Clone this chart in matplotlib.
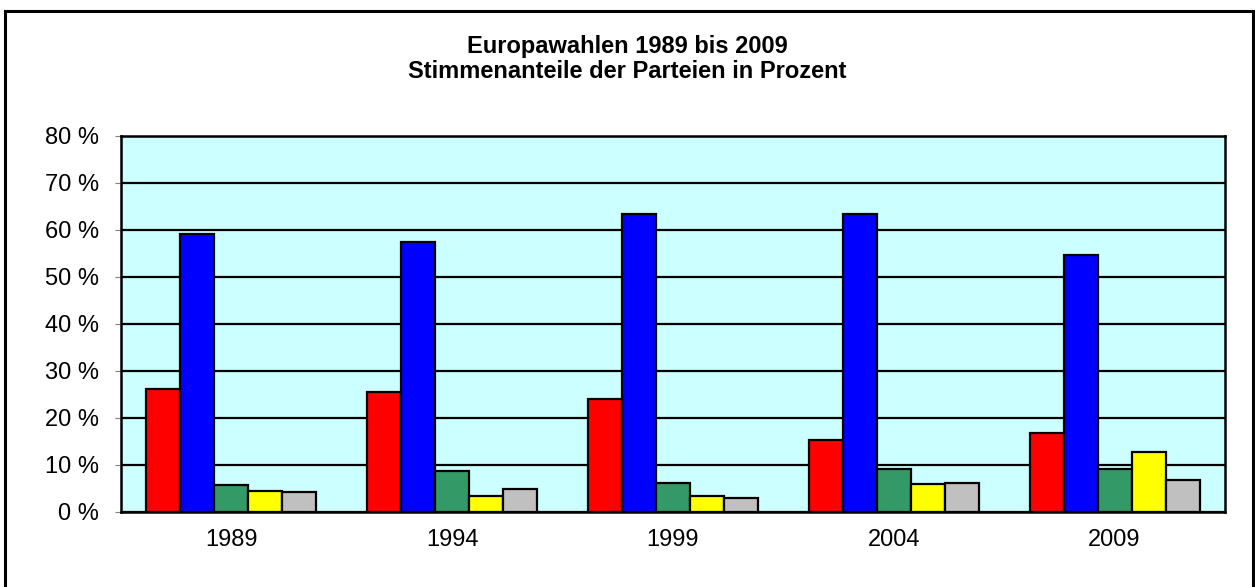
import numpy as np
import matplotlib
matplotlib.use("Agg")
from matplotlib import pyplot as plt
from matplotlib.patches import Rectangle
from matplotlib.ticker import FuncFormatter

years = ["1989", "1994", "1999", "2004", "2009"]
red = [26.2, 25.6, 24.1, 15.2, 16.7]
blue = [59.0, 57.3, 63.4, 63.3, 54.6]
green = [5.8, 8.8, 6.1, 9.2, 9.2]
yellow = [4.4, 3.4, 3.3, 5.9, 12.7]
grey = [4.15, 4.8, 2.9, 6.1, 6.85]

series = [red, blue, green, yellow, grey]
colors = ["#FF0000", "#0000FF", "#339966", "#FFFF00", "#C0C0C0"]

plt.rcParams['font.family'] = ['Liberation Sans', 'DejaVu Sans']

fig = plt.figure(figsize=(12.55, 5.87), dpi=100)
ax = fig.add_axes([121/1255, 1 - 512/587, (1225 - 121)/1255, (512 - 135.5)/587])

# outer frame around the chart
fig.patches.append(Rectangle((5/1255, -0.05), 1248/1255, 1.05 - 11/587,
                             transform=fig.transFigure, fill=False,
                             edgecolor="black", linewidth=2.2))

x = np.arange(len(years))
w = 0.154
for i, (vals, c) in enumerate(zip(series, colors)):
    ax.bar(x + (i - 2) * w, vals, width=w, color=c, edgecolor="black",
           linewidth=1.6, zorder=3)

ax.set_facecolor("#CCFFFF")
ax.set_xlim(-0.5, len(years) - 0.5)
ax.set_ylim(0, 80)
ax.set_yticks(range(0, 81, 10))
ax.yaxis.set_major_formatter(FuncFormatter(lambda v, p: f"{int(v)} %"))
ax.set_xticks(x)
ax.set_xticklabels(years)
ax.grid(axis="y", color="black", linewidth=1.6, zorder=1)
ax.tick_params(axis="y", length=4.3, color="#808080", labelsize=17, pad=11.5)
ax.tick_params(axis="x", length=0, labelsize=17, pad=12)
for s in ax.spines.values():
    s.set_linewidth(1.8)
    s.set_zorder(4)

fig.text(0.5, 1 - 47/587, "Europawahlen 1989 bis 2009", ha="center", va="center",
         fontsize=17, fontweight="bold")
fig.text(0.5, 1 - 71/587, "Stimmenanteile der Parteien in Prozent", ha="center", va="center",
         fontsize=17, fontweight="bold")

fig.savefig("out.png", dpi=100)
